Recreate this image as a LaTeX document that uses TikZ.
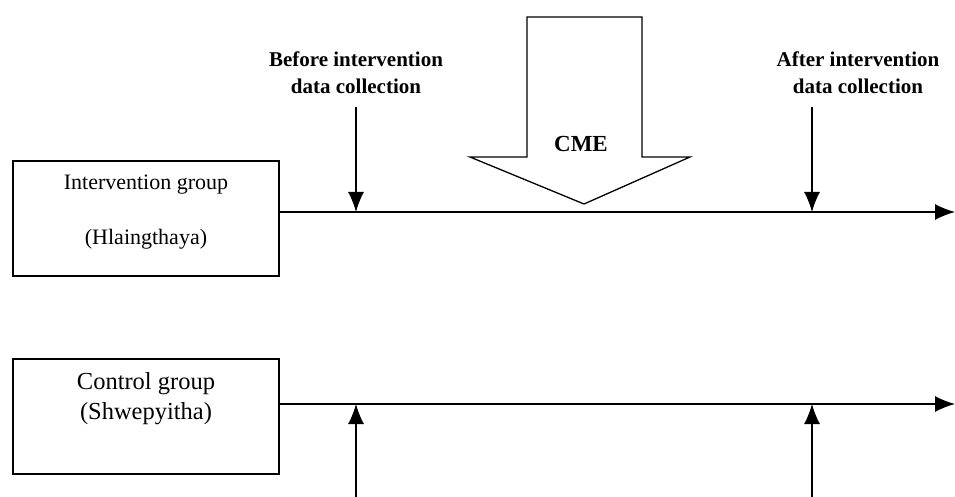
\documentclass[tikz,border=0pt]{standalone}
\usepackage{fontspec}
\setmainfont{Liberation Serif}
\usetikzlibrary{arrows.meta}
\begin{document}
\begin{tikzpicture}[x=1pt,y=-1pt,
  line/.style={line width=1.3pt},
  arr/.style={line, -{Latex[length=20pt,width=16pt]}},
  grp/.style={draw, line width=1.3pt, minimum width=266pt, minimum height=115pt, inner sep=0pt},
  lbl/.style={font=\bfseries\fontsize{21}{27}\selectfont, align=center},
  gtxt/.style={font=\fontsize{22}{26}\selectfont, inner sep=0pt},
  ctxt/.style={font=\fontsize{24.5}{29}\selectfont, inner sep=0pt}]
\useasboundingbox (0,0) rectangle (955,497);
% group boxes
\node[grp] (box1) at (146,218.5) {};
\node[gtxt] (t1) at (146,185) {Intervention group};
\node[gtxt] (t2) at (146,239) {(Hlaingthaya)};
\node[grp] (box2) at (146,416.5) {};
\node[ctxt] (t3) at (146,384) {Control group};
\node[ctxt] (t4) at (146,414) {(Shwepyitha)};
% time lines
\coordinate (iend) at (955,212);
\coordinate (cend) at (955,404);
\draw[arr] (box1.east |- iend) -- (iend);
\draw[arr] (box2.east |- cend) -- (cend);
% data collection arrows
\coordinate (b1) at (356,107);
\coordinate (a1) at (812,107);
\coordinate (b2) at (356,497);
\coordinate (a2) at (812,497);
\draw[arr] (b1) -- (b1 |- iend);
\draw[arr] (a1) -- (a1 |- iend);
\draw[arr] (b2) -- (b2 |- cend);
\draw[arr] (a2) -- (a2 |- cend);
% labels
\node[lbl] (before) at (356,73) {Before intervention\\data collection};
\node[lbl] (after) at (858,73) {After intervention\\data collection};
% CME arrow
\draw[line, line join=miter] (527,17) -- (642,17) -- (642,157) -- (690,157) -- (584,204) -- (470,157) -- (527,157) -- cycle;
\node[font=\bfseries\fontsize{23}{27}\selectfont, inner sep=0pt] (cme) at (581,144) {CME};
\end{tikzpicture}
\end{document}
